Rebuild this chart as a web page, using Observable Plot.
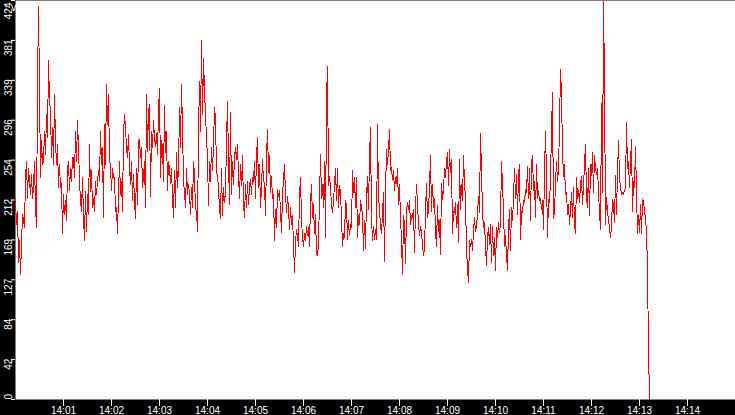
<!DOCTYPE html>
<html>
<head>
<meta charset="utf-8">
<script src="https://cdn.jsdelivr.net/npm/d3@7"></script>
<script src="https://cdn.jsdelivr.net/npm/@observablehq/plot@0.6"></script>
<style>
  html, body { margin: 0; padding: 0; background: #000; }
  #chart svg { display: block; }
</style>
</head>
<body>
<div id="chart"></div>
<script>
// Samples, one every 1.25 s starting at 14:00:00
const seg1 = [212,186,200,146,169,133,165,197,190,183,236,253,214,246,232,218,239,214,225,253,204,183,330,418,332,236,275,250,253,285,260,303,278,360,319,306,257,289,250,324,275,250,271,225,250,225,229,176,218,197,211,190,246,253,222,246,232,257,257,236,285,253,296,268,232,211,200,236,193,169,221,179,218,197,271,221,243,204,214,200,232,218,232,243,232,285,250,268,193,292,250,335,292,324,257,246,222,246,236];
const seg2 = [236,200,204,176,218,253,218,232,200,282,303,289,268,257,282,246,229,253,211,239,211,192,246,207,275,276,257,268,225,236,253,204,324,264,306,313,216,285,268,296,278,269,283,260,308,331,236,275,268,232,312,262,285,222,253,245,230,246,214,193,243,204,262,225,246,310,268,335,289,232,220,204,246,218,229,218,197,225,204,253,239,202,200,179,285,338,285,381,303,362,328,303,278,257,206,253,232,268,243,271];
const seg3 = [310,299,243,237,225,202,192,246,195,225,209,220,275,317,253,207,305,218,253,229,257,268,255,271,237,214,250,227,259,207,193,229,204,232,207,227,234,218,236,232,253,214,259,278,225,250,204,225,255,232,230,195,257,287,241,259,220,237,214,218,169,202,183,223,216,222,200,177,218,234,250,218,199,216];
const seg4 = [204,181,204,186,195,165,135,167,181,174,163,218,236,192,172,163,176,169,184,174,183,163,209,229,193,207,176,197,154,153,165,214,260,214,229,204,253,172,321,354,227,237,225,207,199,209,230,245,211,246,204,227,220,193,163,176,172,211,206,170,190,174,186,183,243,220,236,204,236,172,195,186,211,204];
const seg5 = [197,158,190,160,214,237,202,257,289,193,169,184,170,181,170,292,216,202,184,176,197,220,147,218,266,250,264,287,243,246,234,243,222,236,229,245,207,229,193,169,133,195,186,144,199,209,202,211,186,195,193,202,156,204,229,206,186,174,184,179,163,153,161,199,230,193,200,227,259,200,229,204,214,179];
const seg6 = [163,206,179,190,154,230,213,223,246,236,253,262,227,266,241,255,176,200,199,209,183,207,167,255,202,229,211,259,232,211,160,139,124,169,163,170,158,179,193,179,183,197,216,199,283,243,199,183,188,163,142,172,183,165,186,146,184,153,172,137,183,172,188,177,188,253,229,200,163,174,153,137,181,202];
const seg7 = [158,204,190,213,246,214,239,197,239,250,170,200,199,211,209,223,220,248,214,246,190,252,259,222,232,193,250,214,222,211,214,202,211,181,243,285,239,172,213,209,234,287,326,192,199,229,253,232,245,289,351,326,264,237,250,218,220,197,207,186,202,220,193,225,186,176,236,214,222,209,229,237,207,227];
const seg8 = [250,271,215,204,245,195,250,238,262,220,259,246,239,246,220,199,181,315,220,423,338,186,215,199,192,181,172,184,213,207,188,238,197,241,275,236,225,218,220,218,223,225,294,246,253,225,252,276,200,232,225,269,220,176,195,177,207,176,213,211,200,193,179,140,53,0];

const yTicks = [0, 42.4, 84.8, 127.2, 169.6, 212, 254.4, 296.8, 339.2, 381.6, 424];
const xTickLabels = ["14:01","14:02","14:03","14:04","14:05","14:06","14:07","14:08","14:09","14:10","14:11","14:12","14:13","14:14"];

const day = "2000-01-01T";
const start = new Date(day + "14:00:00Z");
const end = new Date(day + "14:15:00Z");
const stepMs = 1250;

const values = [...seg1, ...seg2, ...seg3, ...seg4, ...seg5, ...seg6, ...seg7, ...seg8];
const data = values.map((v, i) => ({time: new Date(+start + i * stepMs), value: v}));
const xTicks = xTickLabels.map(s => new Date(day + s + ":00Z"));

const yMid = yTicks.slice(1, -1);
const yBottom = yTicks.slice(0, 1);
const yTop = yTicks.slice(-1);
const fmt = d => String(Math.floor(d));

const labelOpts = {
  frameAnchor: "left", rotate: -90, dx: -4, lineAnchor: "bottom",
  fill: "white", fontSize: 10, text: fmt
};

const chart = Plot.plot({
  width: 735,
  height: 415,
  marginLeft: 15,
  marginRight: 0,
  marginTop: 0,
  marginBottom: 16,
  style: {background: "black", color: "white", fontFamily: "Liberation Sans, Arial, sans-serif", fontSize: "10px"},
  x: {type: "utc", domain: [start, end], axis: null},
  y: {domain: [0, 424], axis: null},
  marks: [
    Plot.frame({fill: "white", stroke: "none"}),
    Plot.line(data, {x: "time", y: "value", stroke: "#ff0000", strokeWidth: 1, shapeRendering: "crispEdges"}),
    Plot.axisX(xTicks, {anchor: "bottom", tickSize: 7, tickFormat: () => "", color: "white"}),
    Plot.text(xTicks, {x: d => d, frameAnchor: "bottom", lineAnchor: "bottom", dy: 14, text: d3.utcFormat("%H:%M"), fill: "white", fontSize: 10}),
    Plot.axisY(yTicks, {anchor: "left", tickSize: 4, tickFormat: () => "", color: "white"}),
    Plot.text(yMid, {...labelOpts, y: d => d, textAnchor: "end", dy: -1}),
    Plot.text(yBottom, {...labelOpts, y: d => d, textAnchor: "start", dy: 0}),
    Plot.text(yTop, {...labelOpts, y: d => d, textAnchor: "end", dy: 2})
  ]
});
document.getElementById("chart").appendChild(chart);
</script>
</body>
</html>
